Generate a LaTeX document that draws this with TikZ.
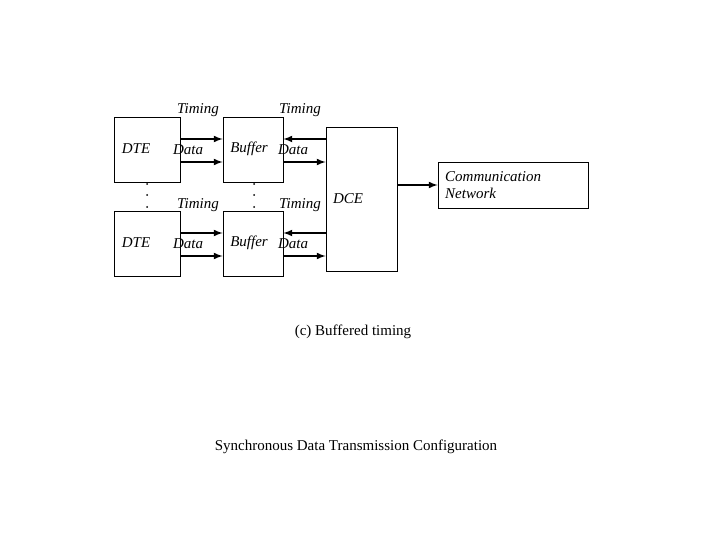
\documentclass[tikz,border=0pt]{standalone}
\usepackage{fontspec}
\setmainfont{Liberation Serif}
\usetikzlibrary{arrows,positioning,calc}

\begin{document}
\begin{tikzpicture}[
    x=1pt, y=-1pt,
    box/.style={draw, rectangle, line width=0.8pt, inner sep=0pt},
    edge/.style={-latex, line width=2pt, draw=black},
    label/.style={font=\fontsize{15}{17}\selectfont\itshape, inner sep=0pt},
    caption/.style={font=\fontsize{15}{17}\selectfont, inner sep=0pt},
]
\useasboundingbox (0,0) rectangle (720,540);

% DTE boxes
\node[box, minimum width=66pt, minimum height=65pt] (dte1) at (147, 149.5) {};
\node[box, minimum width=66pt, minimum height=65pt] (dte2) at (147, 243.5) {};

% Buffers
\node[box, minimum width=60pt, minimum height=65pt] (buf1) at (253, 149.5) {};
\node[box, minimum width=60pt, minimum height=65pt] (buf2) at (253, 243.5) {};

% DCE
\node[box, minimum width=71pt, minimum height=144pt] (dce) at (361.5, 199) {};

% Network
\node[box, minimum width=150pt, minimum height=46pt] (net) at (513, 185) {};

% Box texts
\node[label] (dte1txt) at (136, 149) {DTE};
\node[label] (dte2txt) at (136, 243) {DTE};
\node[label] (buf1txt) at (249, 149) {Buffer};
\node[label] (buf2txt) at (249, 243) {Buffer};
\node[label] (dcetxt) at (348, 199) {DCE};
\node[label, align=left, anchor=west] (nettxt) at (445, 185) {Communication\\Network};

% Line labels
\node[label] (tim1) at (198, 110) {Timing};
\node[label] (tim2) at (300, 110) {Timing};
\node[label] (dat1) at (188, 150) {Data};
\node[label] (dat2) at (293, 150) {Data};
\node[label] (tim3) at (198, 205) {Timing};
\node[label] (tim4) at (300, 205) {Timing};
\node[label] (dat3) at (188, 244) {Data};
\node[label] (dat4) at (293, 244) {Data};

% Edges
\draw[edge] ([yshift=10.5pt]dte1.east) -- ([yshift=10.5pt]buf1.west);
\draw[edge] ([yshift=-12.5pt]dte1.east) -- ([yshift=-12.5pt]buf1.west);
\draw[edge] ([yshift=10.5pt]buf1.east -| dce.west) -- ([yshift=10.5pt]buf1.east);
\draw[edge] ([yshift=-12.5pt]buf1.east) -- ([yshift=-12.5pt]buf1.east -| dce.west);
\draw[edge] ([yshift=10.5pt]dte2.east) -- ([yshift=10.5pt]buf2.west);
\draw[edge] ([yshift=-12.5pt]dte2.east) -- ([yshift=-12.5pt]buf2.west);
\draw[edge] ([yshift=10.5pt]buf2.east -| dce.west) -- ([yshift=10.5pt]buf2.east);
\draw[edge] ([yshift=-12.5pt]buf2.east) -- ([yshift=-12.5pt]buf2.east -| dce.west);
\draw[edge] (dce.east |- net.west) -- (net.west);

% Dots
\foreach \y in {184, 195, 207} {
  \fill (147, \y) circle (1pt);
  \fill (254, \y) circle (1pt);
}

% Captions
\node[caption] (sub) at (353, 332) {(c) Buffered timing};
\node[caption] (title) at (356, 447) {Synchronous Data Transmission Configuration};

\end{tikzpicture}
\end{document}
